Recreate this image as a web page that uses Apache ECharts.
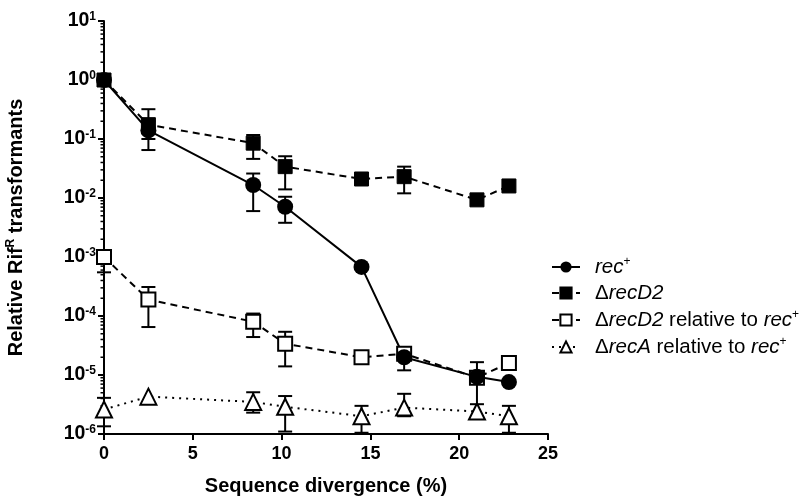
<!DOCTYPE html>
<html>
<head>
<meta charset="utf-8">
<script src="https://cdn.jsdelivr.net/npm/echarts@6/dist/echarts.min.js"></script>
<style>
  html, body { margin: 0; background: #fff; }
  #chart { width: 811px; height: 497px; }
</style>
</head>
<body>
<div id="chart"></div>
<script>
// sequence divergence (%) for each measured point
const divergence = [0, 2.5, 8.4, 10.2, 14.5, 16.9, 21.0, 22.8]

// rec+
const recPlus = [1, 0.14, 0.0166, 0.0071, 6.8e-4, 2.0e-5, 9.3e-6, 7.6e-6]
const recPlusLo = [null, 0.065, 0.006, 0.0038, null, 1.2e-5, null, null]
const recPlusHi = [null, 0.2, 0.026, 0.0105, null, 2.6e-5, null, null]

// ΔrecD2
const recD2 = [1, 0.175, 0.085, 0.034, 0.021, 0.023, 0.0093, 0.016]
const recD2Lo = [null, 0.1, 0.046, 0.014, null, 0.012, null, null]
const recD2Hi = [null, 0.32, 0.117, 0.051, null, 0.034, null, null]

// ΔrecD2 relative to rec+
const recD2Rel = [1e-3, 1.9e-4, 8e-5, 3.4e-5, 2.0e-5, 2.3e-5, 9e-6, 1.6e-5]
const recD2RelLo = [5.5e-4, 6.5e-5, 4.4e-5, 1.4e-5, null, 1.8e-5, 3.2e-6, null]
const recD2RelHi = [1.3e-3, 3.1e-4, 1.1e-4, 5.4e-5, null, 2.8e-5, 1.65e-5, null]

// ΔrecA relative to rec+
const recARel = [2.6e-6, 4.3e-6, 3.5e-6, 2.9e-6, 2.0e-6, 2.8e-6, 2.4e-6, 2.0e-6]
const recARelLo = [1.35e-6, null, 2.3e-6, 1.1e-6, 1.05e-6, 2.0e-6, null, 1.05e-6]
const recARelHi = [4.1e-6, null, 5.1e-6, 4.4e-6, 3.0e-6, 4.8e-6, null, 3.0e-6]

const seriesNames = ['rec', 'recD2', 'recD2rel', 'recArel']
const legendLabels = {
  rec: '{i|rec}{s|+}',
  recD2: '{n|\u0394}{i|recD2}',
  recD2rel: '{n|\u0394}{i|recD2}{n| relative to }{i|rec}{s|+}',
  recArel: '{n|\u0394}{i|recA}{n| relative to }{i|rec}{s|+}',
}

const FONT = '"Liberation Sans", Arial, sans-serif'
const INK = '#000'

const chart = echarts.init(document.getElementById('chart'), null, { renderer: 'canvas' })

function pairs(ys) {
  return divergence.map((x, i) => [x, ys[i]])
}

function bars(lo, hi) {
  return divergence
    .map((x, i) => [x, lo[i], hi[i]])
    .filter((d) => d[1] != null && d[2] != null)
}

function renderErrorBar(params, api) {
  const top = api.coord([api.value(0), api.value(2)])
  const bot = api.coord([api.value(0), api.value(1)])
  const w = 7
  const style = { stroke: INK, lineWidth: 2 }
  return {
    type: 'group',
    children: [
      { type: 'line', shape: { x1: top[0], y1: top[1], x2: bot[0], y2: bot[1] }, style },
      { type: 'line', shape: { x1: top[0] - w, y1: top[1], x2: top[0] + w, y2: top[1] }, style },
      { type: 'line', shape: { x1: bot[0] - w, y1: bot[1], x2: bot[0] + w, y2: bot[1] }, style },
    ],
  }
}

function errorSeries(lo, hi) {
  return {
    type: 'custom',
    data: bars(lo, hi),
    encode: { x: 0, y: [1, 2] },
    renderItem: renderErrorBar,
    silent: true,
    z: 1,
  }
}

// log-style minor ticks (2..9 in each decade) on the y axis
const minorTickValues = []
for (let e = -6; e < 1; e++) {
  for (let m = 2; m <= 9; m++) minorTickValues.push(m * Math.pow(10, e))
}

const lineBase = {
  type: 'line',
  symbolSize: 14,
  z: 3,
  lineStyle: { color: INK, width: 2 },
  emphasis: { disabled: true },
}

const option = {
  animation: false,
  backgroundColor: '#fff',
  textStyle: { fontFamily: FONT, color: INK },
  grid: { left: 104, right: 263, top: 21, bottom: 63, containLabel: false, outerBoundsMode: 'none' },
  legend: {
    data: seriesNames,
    orient: 'vertical',
    left: 551,
    top: 256,
    padding: 0,
    itemWidth: 28,
    itemHeight: 14,
    itemGap: 5.5,
    selectedMode: false,
    formatter: (name) => legendLabels[name],
    textStyle: {
      color: INK,
      padding: [0, 0, 0, 10],
      rich: {
        n: { fontFamily: FONT, fontSize: 20.5, color: INK, lineHeight: 22 },
        i: { fontFamily: FONT, fontSize: 20.5, fontStyle: 'italic', color: INK, lineHeight: 22 },
        s: { fontFamily: FONT, fontSize: 12, color: INK, verticalAlign: 'top', lineHeight: 12 },
      },
    },
  },
  xAxis: {
    type: 'value',
    min: 0,
    max: 25,
    interval: 5,
    name: 'Sequence divergence (%)',
    nameLocation: 'middle',
    nameGap: 42,
    nameTextStyle: { fontFamily: FONT, fontSize: 20, fontWeight: 'bold', color: INK },
    axisLine: { show: true, onZero: false, lineStyle: { color: INK, width: 2 } },
    axisTick: { show: true, length: 6, lineStyle: { color: INK, width: 2 } },
    axisLabel: { fontFamily: FONT, fontSize: 18, fontWeight: 'bold', color: INK, margin: 11 },
    splitLine: { show: false },
  },
  yAxis: {
    type: 'log',
    logBase: 10,
    min: 1e-6,
    max: 10,
    name: '{t|Relative Rif}{s|R}{t| transformants}',
    nameLocation: 'middle',
    nameRotate: 90,
    nameGap: 77,
    nameTextStyle: {
      rich: {
        t: { fontFamily: FONT, fontSize: 20, fontWeight: 'bold', color: INK, lineHeight: 22 },
        s: { fontFamily: FONT, fontSize: 12, fontWeight: 'bold', color: INK, verticalAlign: 'top', lineHeight: 13 },
      },
    },
    axisLine: { show: true, onZero: false, lineStyle: { color: INK, width: 2 } },
    axisTick: { show: true, length: 6, lineStyle: { color: INK, width: 2 } },
    axisLabel: {
      margin: 8,
      formatter: (v) => '{b|10}{e|' + Math.round(Math.log10(v)) + '}',
      rich: {
        b: { fontFamily: FONT, fontSize: 19.5, fontWeight: 'bold', color: INK, lineHeight: 20 },
        e: { fontFamily: FONT, fontSize: 12, fontWeight: 'bold', color: INK, verticalAlign: 'top', lineHeight: 12 },
      },
    },
    splitLine: { show: false },
  },
  series: [
    {
      type: 'custom',
      data: minorTickValues.map((v) => [0, v]),
      encode: { x: 0, y: 1 },
      silent: true,
      clip: false,
      z: 0,
      renderItem: (params, api) => {
        const p = api.coord([api.value(0), api.value(1)])
        return {
          type: 'line',
          shape: { x1: p[0] - 3.5, y1: p[1], x2: p[0], y2: p[1] },
          style: { stroke: INK, lineWidth: 1.5 },
        }
      },
    },
    errorSeries(recPlusLo, recPlusHi),
    errorSeries(recD2Lo, recD2Hi),
    errorSeries(recD2RelLo, recD2RelHi),
    errorSeries(recARelLo, recARelHi),
    {
      ...lineBase,
      name: 'recArel',
      data: pairs(recARel),
      symbol: 'triangle',
      symbolSize: 16,
      itemStyle: { color: '#fff', borderColor: INK, borderWidth: 2 },
      lineStyle: { color: INK, width: 2, type: [2, 5] },
    },
    {
      ...lineBase,
      name: 'recD2rel',
      data: pairs(recD2Rel),
      symbol: 'rect',
      itemStyle: { color: '#fff', borderColor: INK, borderWidth: 2 },
      lineStyle: { color: INK, width: 2, type: [7, 5] },
    },
    {
      ...lineBase,
      name: 'recD2',
      data: pairs(recD2),
      symbol: 'rect',
      itemStyle: { color: INK, borderColor: INK, borderWidth: 1 },
      lineStyle: { color: INK, width: 2, type: [7, 5] },
    },
    {
      ...lineBase,
      name: 'rec',
      data: pairs(recPlus),
      symbol: 'circle',
      symbolSize: 16,
      itemStyle: { color: INK, borderColor: INK, borderWidth: 0 },
      lineStyle: { color: INK, width: 2 },
    },
  ],
}

chart.setOption(option)
</script>
</body>
</html>
